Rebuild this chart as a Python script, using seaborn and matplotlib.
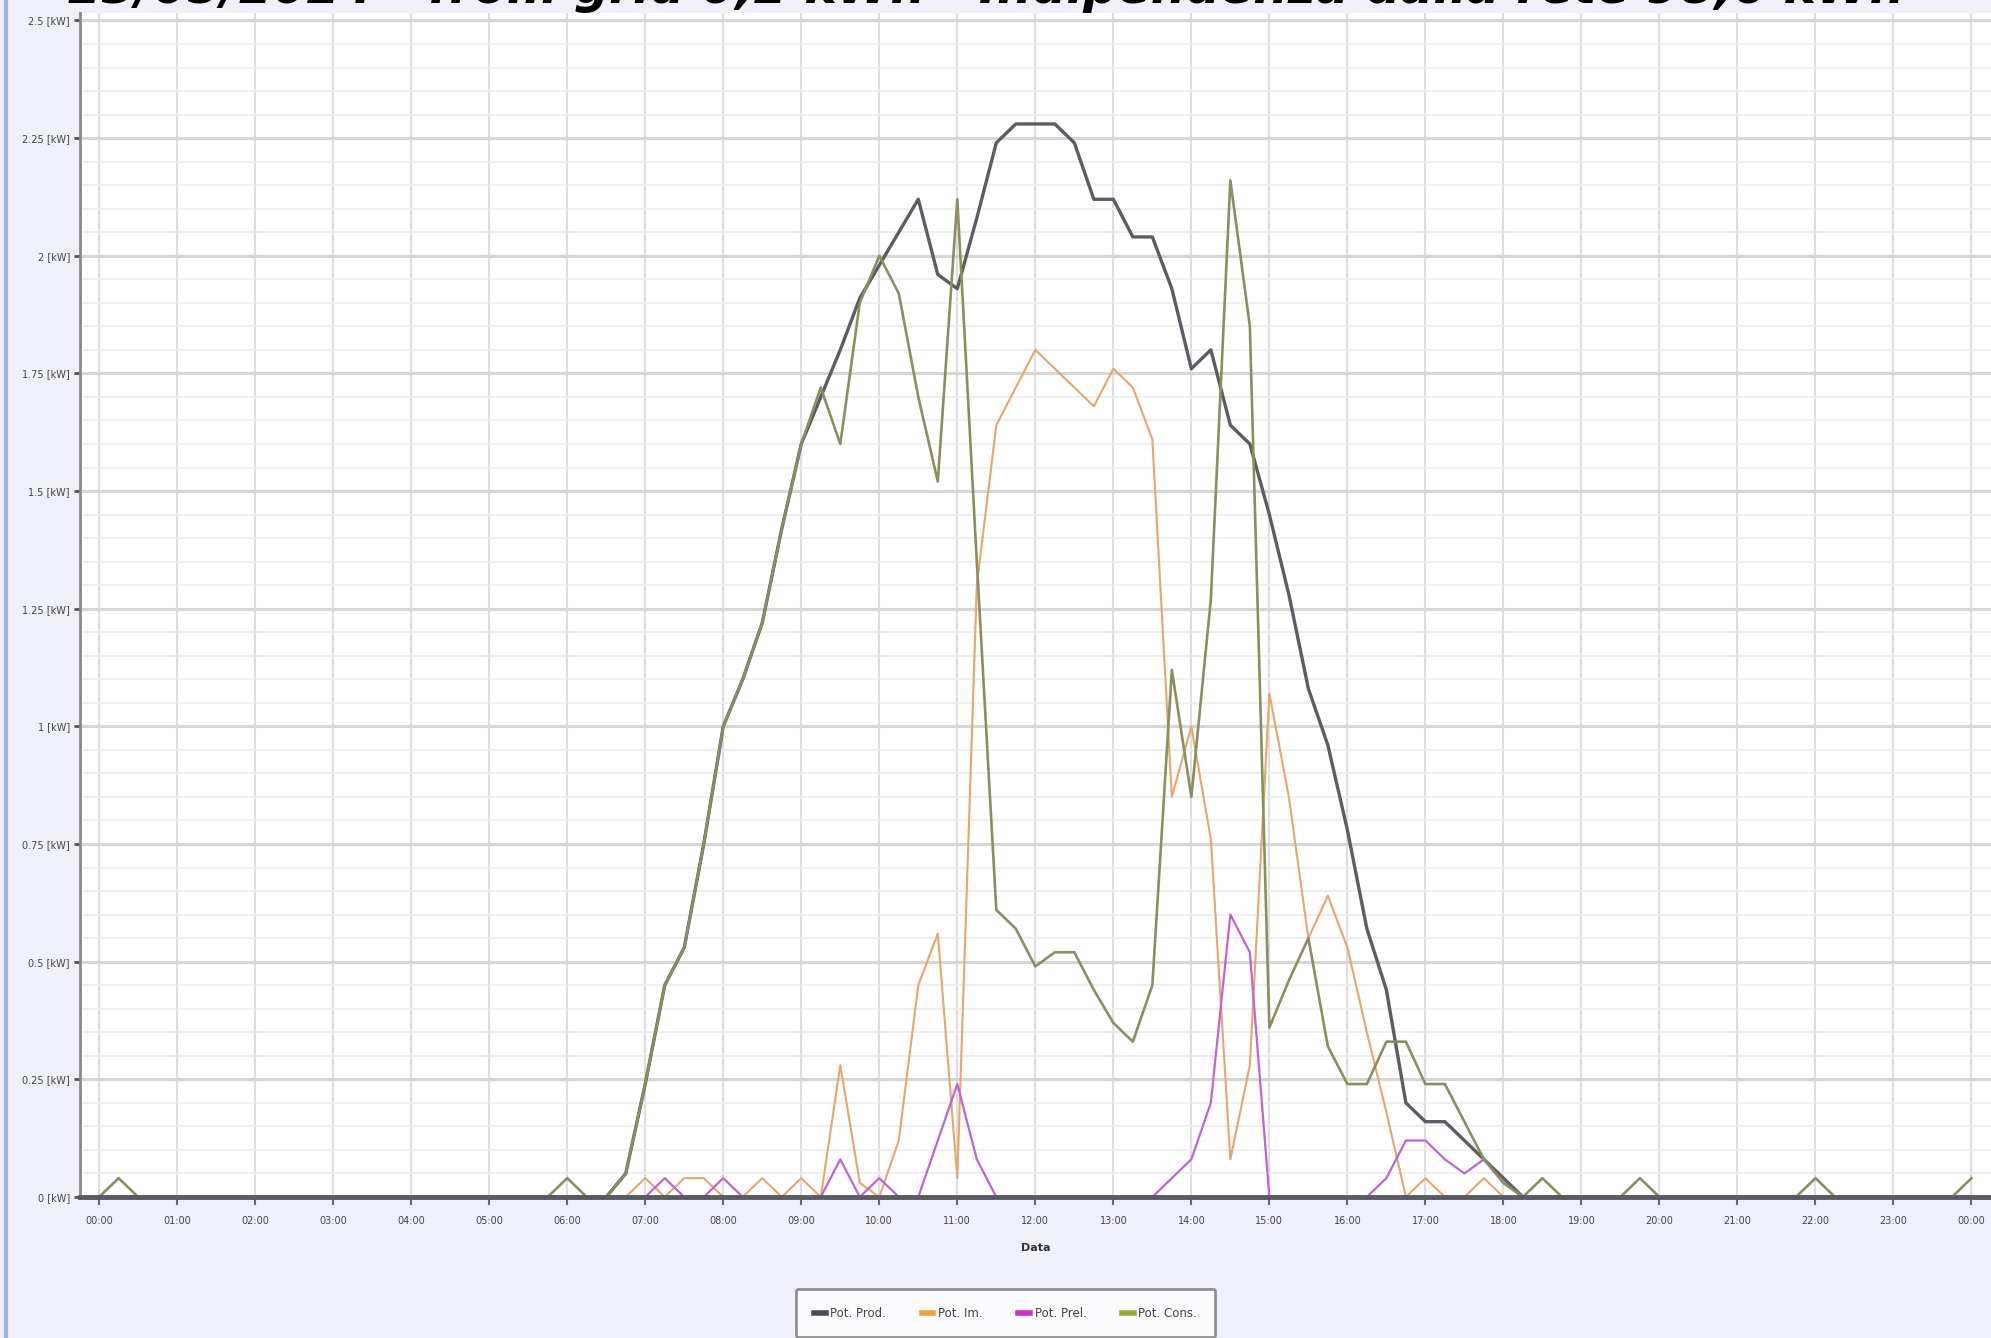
import numpy as np
import pandas as pd
import seaborn as sns
import matplotlib.pyplot as plt
from matplotlib.lines import Line2D

# quarter-hour readings, 00:00 .. 24:00 (97 points), values in kW
times = [i / 4 for i in range(97)]

pot_prod = ([0] * 27 +
            [0.05, 0.24, 0.45, 0.53, 0.75, 1.00, 1.10, 1.22, 1.42, 1.60,
             1.70, 1.80, 1.91, 1.98, 2.05, 2.12, 1.96, 1.93, 2.08, 2.24,
             2.28, 2.28, 2.28, 2.24, 2.12, 2.12, 2.04, 2.04, 1.93, 1.76,
             1.80, 1.64, 1.60, 1.45, 1.28, 1.08, 0.96, 0.78, 0.57, 0.44,
             0.20, 0.16, 0.16, 0.12, 0.08, 0.04] +
            [0] * 24)

pot_imm = ([0] * 28 +
           [0.04, 0, 0.04, 0.04, 0, 0, 0.04, 0, 0.04, 0,
            0.28, 0.03, 0, 0.12, 0.45, 0.56, 0.04, 1.30, 1.64, 1.72,
            1.80, 1.76, 1.72, 1.68, 1.76, 1.72, 1.61, 0.85, 1.00, 0.76,
            0.08, 0.28, 1.07, 0.85, 0.55, 0.64, 0.53, 0.35, 0.18, 0,
            0.04, 0, 0, 0.04] +
           [0] * 25)

pot_prel = ([0] * 29 +
            [0.04, 0, 0, 0.04, 0, 0, 0, 0, 0, 0.08,
             0, 0.04, 0, 0, 0.12, 0.24, 0.08, 0, 0, 0,
             0, 0, 0, 0, 0, 0, 0.04, 0.08, 0.20, 0.60,
             0.52, 0, 0, 0, 0, 0, 0, 0.04, 0.12, 0.12,
             0.08, 0.05, 0.08, 0.03] +
            [0] * 24)

pot_cons = ([0, 0.04] + [0] * 22 + [0.04, 0, 0] +
            [0.05, 0.24, 0.45, 0.53, 0.75, 1.00, 1.10, 1.22, 1.42, 1.60,
             1.72, 1.60, 1.90, 2.00, 1.92, 1.70, 1.52, 2.12, 1.35, 0.61,
             0.57, 0.49, 0.52, 0.52, 0.44, 0.37, 0.33, 0.45, 1.12, 0.85,
             1.27, 2.16, 1.85, 0.36, 0.46, 0.55, 0.32, 0.24, 0.24, 0.33,
             0.33, 0.24, 0.24, 0.16, 0.08, 0.03] +
            [0, 0.04, 0, 0, 0, 0, 0.04, 0, 0, 0, 0, 0, 0, 0, 0, 0.04,
             0, 0, 0, 0, 0, 0, 0, 0.04])

series_names = ['Pot. Prod.', 'Pot. Im.', 'Pot. Prel.', 'Pot. Cons.']
y_ticks = [0, 0.25, 0.5, 0.75, 1, 1.25, 1.5, 1.75, 2, 2.25, 2.5]
y_labels = ['0 [kW]', '0.25 [kW]', '0.5 [kW]', '0.75 [kW]', '1 [kW]', '1.25 [kW]',
            '1.5 [kW]', '1.75 [kW]', '2 [kW]', '2.25 [kW]', '2.5 [kW]']
x_labels = ['%02d:00' % h for h in range(24)] + ['00:00']

colors = {'Pot. Prod.': '#5c5c64', 'Pot. Im.': '#e6a66c',
          'Pot. Prel.': '#c064d2', 'Pot. Cons.': '#8c8e5e'}
legend_colors = {'Pot. Prod.': '#4a4a55', 'Pot. Im.': '#f0a040',
                 'Pot. Prel.': '#cc33cc', 'Pot. Cons.': '#99aa33'}
widths = {'Pot. Prod.': 2.4, 'Pot. Im.': 1.5, 'Pot. Prel.': 1.6, 'Pot. Cons.': 1.9}

df = pd.DataFrame({'ora': times * 4,
                   'kW': pot_prod + pot_imm + pot_prel + pot_cons,
                   'serie': sum([[n] * len(times) for n in series_names], [])})

fig = plt.figure(figsize=(19.91, 13.38), dpi=100, facecolor='#eff0f9')
ax = fig.add_axes([0.040, 0.1054, 0.960, 0.8846])
ax.set_facecolor('white')

for name in series_names:
    sns.lineplot(data=df[df['serie'] == name], x='ora', y='kW', color=colors[name],
                 linewidth=widths[name], ax=ax, legend=False, zorder=3)

ax.set_xlim(-0.25, 24.25)
ax.set_ylim(0, 2.515)
ax.set_xticks(range(25))
ax.set_xticklabels(x_labels, fontsize=7, color='#444444')
ax.set_yticks(y_ticks)
ax.set_yticklabels(y_labels, fontsize=7, color='#444444')
ax.set_yticks(np.arange(0, 2.51, 0.05), minor=True)
ax.tick_params(axis='y', which='minor', length=0)
ax.tick_params(axis='y', which='major', length=4, width=2, color='#555555', pad=3)
ax.tick_params(axis='x', which='major', length=6, width=1.5, color='#666666', pad=8)

ax.grid(axis='y', which='major', color='#d6d6d6', linewidth=2.2, zorder=0)
ax.grid(axis='y', which='minor', color='#ececec', linewidth=1.2, zorder=0)
ax.grid(axis='x', which='major', color='#dedede', linewidth=1.5, zorder=0)

for side in ['top', 'right']:
    ax.spines[side].set_visible(False)
ax.spines['left'].set_color('#8a8a8a')
ax.spines['left'].set_linewidth(2)
ax.spines['bottom'].set_color('#5a5a62')
ax.spines['bottom'].set_linewidth(3.5)
ax.spines['bottom'].set_zorder(4)

ax.set_xlabel('Data', fontsize=8, fontweight='bold', color='#333333', labelpad=12)
ax.set_ylabel('')

# title of the screenshot, cut off at the top edge as in the original capture
fig.text(0.034, 0.9975, '23/05/2024 - from grid 0,2 kWh - Indipendenza dalla rete 98,6 kWh',
         fontsize=35, fontweight='bold', fontstyle='italic', color='black',
         va='baseline', ha='left')

# window border on the left
fig.add_artist(Line2D([0.003, 0.003], [0, 1], color='#9db6d8', linewidth=3))

handles = [Line2D([], [], color=legend_colors[n], linewidth=4) for n in series_names]
leg = fig.legend(handles, series_names, loc='upper center', bbox_to_anchor=(0.505, 0.041),
                 ncol=4, fontsize=8.5, frameon=True, handlelength=1.0, handletextpad=0.4,
                 columnspacing=3.0, borderpad=1.5, fancybox=True)
leg.get_frame().set_edgecolor('#777777')
leg.get_frame().set_linewidth(2)
leg.get_frame().set_facecolor('white')
for t in leg.get_texts():
    t.set_color('#444444')

fig.savefig('out.png', dpi=100, facecolor=fig.get_facecolor())
